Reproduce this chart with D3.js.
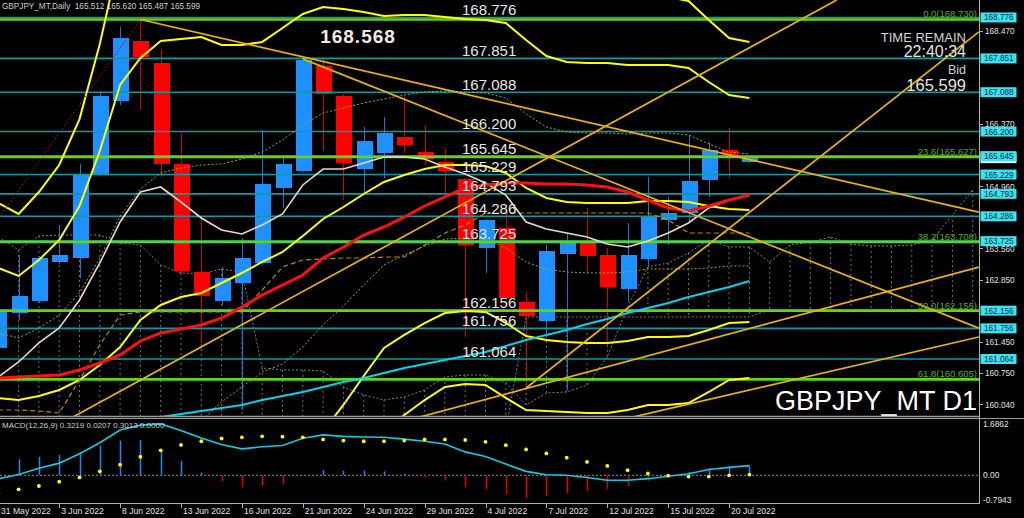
<!DOCTYPE html>
<html><head><meta charset="utf-8">
<script src="https://cdn.jsdelivr.net/npm/d3@7/dist/d3.min.js"></script>
<style>html,body{margin:0;padding:0;background:#000;overflow:hidden}svg{display:block}</style>
</head><body><svg id="c" width="1024" height="518"></svg>
<script>
// ---------------- DATA ----------------
const dates = ["2022-05-31","2022-06-01","2022-06-02","2022-06-03","2022-06-06","2022-06-07","2022-06-08","2022-06-09","2022-06-10","2022-06-13","2022-06-14","2022-06-15","2022-06-16","2022-06-17","2022-06-20","2022-06-21","2022-06-22","2022-06-23","2022-06-24","2022-06-27","2022-06-28","2022-06-29","2022-06-30","2022-07-01","2022-07-04","2022-07-05","2022-07-06","2022-07-07","2022-07-08","2022-07-11","2022-07-12","2022-07-13","2022-07-14","2022-07-15","2022-07-18","2022-07-19","2022-07-20","2022-07-21"];
const open  = [161.313,162.103,162.374,163.254,163.345,165.219,166.890,168.244,167.748,165.467,163.029,162.374,162.780,163.232,164.925,165.309,167.680,167.002,165.354,165.716,166.077,165.738,165.512,165.128,163.571,164.022,162.351,161.922,163.435,163.683,163.413,162.645,163.322,164.203,164.361,165.106,165.783,165.512];
const high  = [162.397,163.413,163.390,164.090,165.467,167.093,168.568,168.730,168.064,166.167,164.270,163.142,163.796,166.235,165.670,167.860,167.838,167.048,166.303,166.528,166.980,166.348,165.828,165.151,164.225,164.474,162.577,163.638,163.909,164.474,163.571,164.135,165.174,164.722,166.122,165.964,166.280,165.620];
const low   = [161.222,161.945,162.329,163.209,162.893,165.196,166.799,166.686,165.174,162.961,161.426,162.284,159.913,163.187,164.474,165.287,165.761,164.654,164.812,165.151,165.716,165.445,164.812,161.561,163.006,162.397,160.410,161.606,160.365,163.006,161.380,162.351,163.142,163.638,164.158,164.722,165.151,165.487];
const close = [162.126,162.487,163.345,163.413,165.241,167.002,168.312,167.883,165.467,163.051,162.487,162.893,163.345,165.016,165.467,167.815,167.048,165.490,165.986,166.167,165.896,165.580,165.309,163.638,164.203,162.442,162.035,163.503,163.706,163.390,162.690,163.413,164.293,164.361,165.083,165.783,165.603,165.599];

const bbMid = [160.184,160.139,160.229,160.365,160.590,160.929,161.335,161.945,162.284,162.464,162.555,162.780,163.006,163.255,163.480,163.842,164.225,164.496,164.790,165.061,165.219,165.354,165.445,165.445,165.422,165.264,164.925,164.700,164.609,164.587,164.587,164.587,164.632,164.632,164.609,164.519,164.451,164.429];
const bbSd  = [1.468,1.400,1.535,1.693,1.964,2.416,2.958,2.958,2.980,2.913,2.890,2.687,2.574,2.484,2.529,2.506,2.393,2.235,2.055,1.874,1.806,1.739,1.671,1.648,1.648,1.693,1.671,1.603,1.580,1.580,1.580,1.558,1.535,1.535,1.513,1.400,1.287,1.264];
const maRed = [160.635,160.658,160.681,160.703,160.816,160.974,161.155,161.471,161.652,161.742,161.832,161.990,162.239,162.509,162.735,162.961,163.345,163.593,163.864,164.045,164.271,164.519,164.722,164.925,164.993,165.038,165.038,165.016,165.016,164.993,164.948,164.835,164.654,164.474,164.406,164.519,164.654,164.767];
const tenkan = [160.658,160.997,161.426,161.764,162.397,163.232,164.158,164.835,164.948,164.609,164.248,163.977,163.887,164.090,164.338,164.993,165.354,165.354,165.490,165.625,165.625,165.580,165.399,165.241,165.038,164.767,164.158,164.000,163.909,163.819,163.661,163.593,163.729,163.909,164.135,164.474,164.654,164.767];
const kijun = [159.913,159.913,159.890,159.845,160.590,161.381,162.058,162.126,162.126,162.126,162.126,162.126,162.126,162.622,163.142,163.300,163.322,163.345,163.345,163.367,163.367,163.638,163.909,164.090,164.361,164.361,164.361,164.361,164.361,164.361,164.361,164.361,164.361,164.203,163.909,163.909,163.909,163.909];
const maCyan = [null,null,null,null,null,null,null,null,159.755,159.823,159.890,159.958,160.026,160.139,160.229,160.319,160.432,160.545,160.635,160.748,160.861,160.952,161.042,161.132,161.223,161.358,161.493,161.606,161.719,161.855,161.968,162.103,162.216,162.329,162.464,162.577,162.690,162.826];
const spanA = [163.819,163.525,163.842,163.864,163.864,163.864,163.684,163.638,163.187,163.006,162.984,163.097,163.029,160.861,160.816,160.816,160.794,160.432,160.252,160.139,160.207,160.365,160.658,160.703,160.703,160.523,160.026,160.297,160.319,160.477,161.110,162.239,163.142,163.232,163.458,163.751,163.593,163.593,163.255,163.638,163.706,163.819,163.661,163.616,163.616,163.638,163.751,164.316,164.880];
const spanB = [159.461,159.461,159.461,159.461,159.461,159.461,159.461,159.461,159.461,159.461,159.461,159.461,159.461,159.461,159.461,159.461,159.461,159.461,159.461,159.461,159.461,159.461,159.461,159.461,159.461,159.461,162.013,162.013,162.013,162.013,162.013,162.013,162.013,162.013,162.013,162.013,162.013,162.013,162.171,162.171,162.171,162.171,162.171,162.171,162.171,162.171,162.171,162.171,162.171];

// trend lines: [barIndex, price] pairs
const trendLines = [
  [[7,168.730],[48.3,164.38]],
  [[15,167.84],[48.3,161.76]],
  [[3.68,159.755],[41.3,169.17]],
  [[20.77,159.755],[48.3,163.14]],
  [[31.27,159.755],[48.3,161.56]],
  [[26,160.410],[48.3,168.45]]
];
const redDotLine = [[-1,163.59],[7,168.730]];

const hLines = [168.776,167.851,167.088,166.200,165.645,165.229,164.793,164.286,163.725,162.156,161.756,161.064];
const fibLevels = [0.0,23.6,38.2,50.0,61.8];
const fibPrices = [168.730,165.627,163.708,162.156,160.605];
const axisTicks = [168.470,166.370,164.960,163.560,162.850,161.450,160.750,160.040];

const macdMain = [-0.11,0.03,0.23,0.40,0.71,1.07,1.49,1.65,1.69,1.47,1.23,1.01,0.87,0.94,0.98,1.22,1.33,1.28,1.26,1.25,1.19,1.12,1.03,0.77,0.62,0.37,0.13,0.02,0.00,-0.07,-0.16,-0.16,-0.11,-0.03,0.05,0.19,0.26,0.32];
const macdSignal = [-0.59,-0.46,-0.35,-0.21,-0.07,0.13,0.35,0.61,0.82,1.00,1.12,1.21,1.25,1.28,1.27,1.25,1.18,1.14,1.12,1.12,1.14,1.18,1.18,1.16,1.10,0.99,0.85,0.72,0.58,0.44,0.31,0.17,0.06,-0.01,-0.04,-0.04,0.00,0.02];
const macdHist = [0.48,0.53,0.61,0.67,0.77,0.98,1.14,1.17,0.85,0.48,0.09,-0.19,-0.39,-0.35,-0.28,0.01,0.18,0.15,0.16,0.13,0.05,-0.07,-0.17,-0.39,-0.46,-0.64,-0.75,-0.69,-0.59,-0.51,-0.46,-0.35,-0.19,-0.03,0.11,0.23,0.30,0.30];
const macdAxis = [1.6862,0.00,-0.7943];
const macdAxisText = ["1.6862","0.00","-0.7943"];

const dateTickIdx = [0,3,6,9,12,15,18,21,24,27,30,33,36];
const dateTickLabels = ["31 May 2022","3 Jun 2022","8 Jun 2022","13 Jun 2022","16 Jun 2022","21 Jun 2022","24 Jun 2022","29 Jun 2022","4 Jul 2022","7 Jul 2022","12 Jul 2022","15 Jul 2022","20 Jul 2022"];

// ---------------- SCALES ----------------
const svg = d3.select("#c");
const PR = 979;               // right edge of plot
const x = d3.scaleLinear().domain([0,37]).range([-1.7,749.4]);
const y = d3.scaleLinear().domain([159.777,169.170]).range([416,0]);
const ym = d3.scaleLinear().domain([-0.7943,1.6862]).range([499.5,424]);

svg.append("rect").attr("width",1024).attr("height",518).attr("fill","#000");
const defs = svg.append("defs");
defs.append("clipPath").attr("id","cm").append("rect").attr("x",0).attr("y",0).attr("width",PR).attr("height",416);
defs.append("clipPath").attr("id","cd").append("rect").attr("x",0).attr("y",419).attr("width",PR).attr("height",84);
const g = svg.append("g").attr("clip-path","url(#cm)");

const lineOf = (arr, ys) => d3.line().defined(d=>d!=null).x((d,i)=>x(i)).y(d=>ys(d))(arr);
const F = "Liberation Sans, Arial, sans-serif";

// ---------------- ICHIMOKU CLOUD ----------------
g.append("g").selectAll("line").data(d3.range(spanA.length)).join("line")
  .attr("x1",i=>x(i)).attr("x2",i=>x(i))
  .attr("y1",i=>y(spanA[i])).attr("y2",i=>y(spanB[i]))
  .attr("stroke","#707070").attr("stroke-width",1).attr("stroke-dasharray","2,3");
[spanA,spanB].forEach(s=>g.append("path").attr("d",lineOf(s,y)).attr("fill","none")
  .attr("stroke","#808080").attr("stroke-width",1).attr("stroke-dasharray","2,2"));

// ---------------- CANDLES ----------------
const idx = d3.range(open.length);
const col = i => close[i]>=open[i] ? "#1e90ff" : "#ff0000";
g.append("g").selectAll("line").data(idx).join("line")
  .attr("x1",i=>Math.round(x(i))+0.5).attr("x2",i=>Math.round(x(i))+0.5)
  .attr("y1",i=>y(high[i])).attr("y2",i=>y(low[i]))
  .attr("stroke",i=>close[i]>=open[i]?"#1c74d0":"#d00000").attr("stroke-width",1);
g.append("g").selectAll("rect").data(idx).join("rect")
  .attr("x",i=>Math.round(x(i))-7).attr("width",16)
  .attr("y",i=>y(Math.max(open[i],close[i])))
  .attr("height",i=>Math.max(1,y(Math.min(open[i],close[i]))-y(Math.max(open[i],close[i]))))
  .attr("fill",col);

// ---------------- HORIZONTAL LINES ----------------
g.append("g").selectAll("line").data(hLines).join("line")
  .attr("x1",0).attr("x2",PR).attr("y1",d=>y(d)).attr("y2",d=>y(d))
  .attr("stroke","#0b9aa4").attr("stroke-width",1.6);
g.append("g").selectAll("line").data(fibPrices).join("line")
  .attr("x1",0).attr("x2",PR).attr("y1",d=>y(d)).attr("y2",d=>y(d))
  .attr("stroke","#5fd41c").attr("stroke-width",2.6);

// ---------------- INDICATORS ----------------
[1,-1].forEach(sg=>{
  [1,2,3].forEach(k=>{
    const arr = bbMid.map((m,i)=>m+sg*k*bbSd[i]);
    const p = g.append("path").attr("d",lineOf(arr,y)).attr("fill","none");
    if(k===1) p.attr("stroke","#a6a622").attr("stroke-width",1).attr("stroke-dasharray","2,2");
    else p.attr("stroke","#ffff00").attr("stroke-width",2);
  });
});
g.append("path").attr("d",lineOf(bbMid,y)).attr("fill","none").attr("stroke","#ffff00").attr("stroke-width",2);
g.append("path").attr("d",lineOf(kijun,y)).attr("fill","none").attr("stroke","#b8860b").attr("stroke-width",1.2).attr("stroke-dasharray","5,3");
g.append("path").attr("d",lineOf(maCyan,y)).attr("fill","none").attr("stroke","#00d4ec").attr("stroke-width",2);
g.append("path").attr("d",lineOf(tenkan,y)).attr("fill","none").attr("stroke","#eed6c8").attr("stroke-width",1.6);
g.append("path").attr("d",lineOf(maRed,y)).attr("fill","none").attr("stroke","#ff1010").attr("stroke-width",3);

const tl = d3.line().x(d=>x(d[0])).y(d=>y(d[1]));
trendLines.forEach(t=>g.append("path").attr("d",tl(t)).attr("fill","none").attr("stroke","#e8b400").attr("stroke-width",1.7));
g.append("path").attr("d",tl(redDotLine)).attr("fill","none").attr("stroke","#b01010").attr("stroke-width",1).attr("stroke-dasharray","2,2");

// ---------------- TEXT IN CHART ----------------
const tg = svg.append("g").attr("clip-path","url(#cm)");
tg.selectAll("text.hl").data(hLines).join("text")
  .attr("x",462).attr("y",d=>y(d)-2.5).text(d=>d.toFixed(3))
  .attr("font-family",F).attr("font-size",15).attr("fill","#e8e8e8");
tg.selectAll("text.fb").data(fibPrices).join("text")
  .attr("x",977).attr("y",d=>y(d)-2).attr("text-anchor","end")
  .text((d,i)=>fibLevels[i].toFixed(1)+"("+d.toFixed(3)+")")
  .attr("font-family",F).attr("font-size",9.5).attr("fill","#5aae10");
tg.append("text").attr("x",358).attr("y",43).attr("text-anchor","middle").text("168.568")
  .attr("font-family",F).attr("font-size",19).attr("font-weight","bold").attr("letter-spacing",1).attr("fill","#f4ece4");
tg.append("text").attr("x",966).attr("y",42).attr("text-anchor","end").text("TIME REMAIN")
  .attr("font-family",F).attr("font-size",13).attr("fill","#d4d4d4");
tg.append("text").attr("x",966).attr("y",57).attr("text-anchor","end").text("22:40:34")
  .attr("font-family",F).attr("font-size",16).attr("fill","#e4e4e4");
tg.append("text").attr("x",966).attr("y",74).attr("text-anchor","end").text("Bid")
  .attr("font-family",F).attr("font-size",12.5).attr("fill","#d4d4d4");
tg.append("text").attr("x",966).attr("y",90.5).attr("text-anchor","end").text("165.599")
  .attr("font-family",F).attr("font-size",16.5).attr("fill","#e4e4e4");
tg.append("text").attr("x",977).attr("y",410).attr("text-anchor","end").text("GBPJPY_MT D1")
  .attr("font-family",F).attr("font-size",27).attr("fill","#ffffff");
svg.append("text").attr("x",2).attr("y",9).text("GBPJPY_MT,Daily  165.512 165.620 165.487 165.599")
  .attr("font-family",F).attr("font-size",8.2).attr("fill","#cfcfcf").style("white-space","pre");

// ---------------- RIGHT AXIS ----------------
svg.append("line").attr("x1",PR+0.5).attr("x2",PR+0.5).attr("y1",0).attr("y2",504).attr("stroke","#b0b0b0");
const ax = svg.append("g");
ax.selectAll("line").data(axisTicks).join("line").attr("x1",PR).attr("x2",PR+4)
  .attr("y1",d=>Math.round(y(d))+0.5).attr("y2",d=>Math.round(y(d))+0.5).attr("stroke","#b0b0b0");
ax.selectAll("text").data(axisTicks).join("text").attr("x",985).attr("y",d=>y(d)+3.2)
  .text(d=>d.toFixed(3)).attr("font-family",F).attr("font-size",8.2).attr("fill","#e0e0e0");
svg.append("rect").attr("x",980.5).attr("y",y(165.599)-5).attr("width",36).attr("height",10).attr("fill","#f2f2f2");
const bx = svg.append("g");
bx.selectAll("rect").data(hLines).join("rect").attr("x",980.5).attr("y",d=>y(d)-5).attr("width",36).attr("height",10).attr("fill","#3ce2f0");
bx.selectAll("text").data(hLines).join("text").attr("x",984).attr("y",d=>y(d)+3).text(d=>d.toFixed(3))
  .attr("font-family",F).attr("font-size",8.2).attr("fill","#06303a");

// ---------------- PANEL SEPARATORS ----------------
svg.append("line").attr("x1",0).attr("x2",PR).attr("y1",416.5).attr("y2",416.5).attr("stroke","#9a9a9a").attr("stroke-width",1.5);
svg.append("line").attr("x1",0).attr("x2",1024).attr("y1",418.5).attr("y2",418.5).attr("stroke","#9a9a9a");
svg.append("line").attr("x1",0).attr("x2",PR+1).attr("y1",503.5).attr("y2",503.5).attr("stroke","#b0b0b0");

// ---------------- MACD ----------------
const mg = svg.append("g").attr("clip-path","url(#cd)");
mg.append("line").attr("x1",0).attr("x2",PR).attr("y1",ym(0)).attr("y2",ym(0)).attr("stroke","#8a8a8a").attr("stroke-dasharray","2,2");
mg.append("g").selectAll("line").data(idx).join("line")
  .attr("x1",i=>Math.round(x(i))+0.5).attr("x2",i=>Math.round(x(i))+0.5)
  .attr("y1",ym(0)).attr("y2",i=>ym(macdHist[i]))
  .attr("stroke",i=>macdHist[i]>=0?"#1e88f0":"#e00000").attr("stroke-width",1.5);
mg.append("path").attr("d",lineOf(macdMain,ym)).attr("fill","none").attr("stroke","#18c8dc").attr("stroke-width",1.6);
mg.append("g").selectAll("circle").data(idx).join("circle")
  .attr("cx",i=>x(i)).attr("cy",i=>ym(macdSignal[i])).attr("r",1.9).attr("fill","#ffff00");
svg.append("text").attr("x",2).attr("y",428).text("MACD(12,26,9) 0.3219 0.0207 0.3013 0.0000")
  .attr("font-family",F).attr("font-size",8).attr("fill","#cfcfcf");
svg.selectAll("text.ma").data(macdAxis).join("text").attr("x",983).attr("y",d=>ym(d)+3)
  .text((d,i)=>macdAxisText[i]).attr("font-family",F).attr("font-size",8.4).attr("fill","#e0e0e0");

// ---------------- DATE AXIS ----------------
const dg = svg.append("g");
dg.selectAll("line").data(dateTickIdx).join("line")
  .attr("x1",i=>Math.round(x(i))+0.5).attr("x2",i=>Math.round(x(i))+0.5).attr("y1",504).attr("y2",508).attr("stroke","#b0b0b0");
dg.selectAll("text").data(dateTickIdx).join("text")
  .attr("x",i=>Math.max(1,x(i)+2)).attr("y",514).text((i,k)=>dateTickLabels[k])
  .attr("font-family",F).attr("font-size",8.6).attr("fill","#e0e0e0");
</script>
</body></html>
